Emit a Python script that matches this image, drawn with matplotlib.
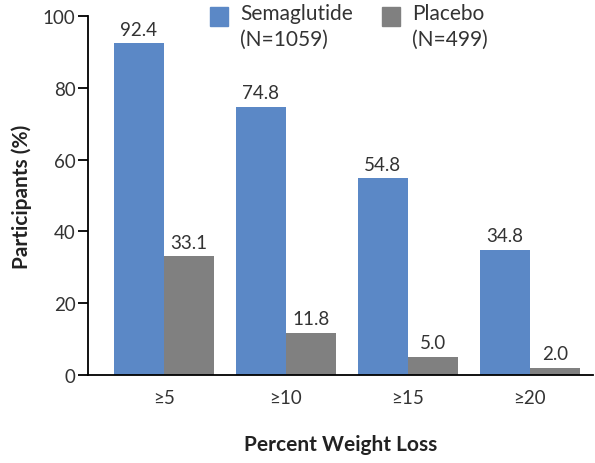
import matplotlib.pyplot as plt
import matplotlib.patches as mpatches
import numpy as np

categories = ["\u22655", "\u226510", "\u226515", "\u226520"]
semaglutide = [92.4, 74.8, 54.8, 34.8]
placebo = [33.1, 11.8, 5.0, 2.0]
series_names = ["Semaglutide\n(N=1059)", "Placebo\n(N=499)"]

blue = "#5b88c6"
gray = "#808080"
text_color = "#333333"

plt.rcParams['font.family'] = ['Lato', 'DejaVu Sans']

fig = plt.figure(figsize=(5.95, 4.64), dpi=100)
ax = fig.add_axes([0.148, 0.19, 0.849, 0.773])

x = np.arange(len(categories))
w = 0.41
b1 = ax.bar(x - w / 2, semaglutide, w, color=blue)
b2 = ax.bar(x + w / 2, placebo, w, color=gray)

# value labels above bars
for bars, vals in [(b1, semaglutide), (b2, placebo)]:
    for rect, v in zip(bars, vals):
        ax.annotate(f"{v:.1f}", (rect.get_x() + rect.get_width() / 2, v),
                    xytext=(0, 4), textcoords="offset points",
                    ha="center", va="bottom", fontsize=13.5, color=text_color)

ax.set_ylim(0, 100)
ax.set_xlim(-0.62, 3.52)
ax.set_yticks([0, 20, 40, 60, 80, 100])
ax.set_xticks(x)
ax.set_xticklabels(categories)
ax.tick_params(axis="y", length=7, width=1.3, labelsize=13.5, labelcolor=text_color, pad=2)
ax.tick_params(axis="x", length=0, labelsize=13.5, labelcolor=text_color, pad=10)
for s in ["top", "right"]:
    ax.spines[s].set_visible(False)
for s in ["left", "bottom"]:
    ax.spines[s].set_linewidth(1.3)

ax.set_ylabel("Participants (%)", fontsize=15, fontweight="bold", color="#222222", labelpad=8)
ax.set_xlabel("Percent Weight Loss", fontsize=15, fontweight="bold", color="#222222", labelpad=20)

# legend: squares with two-line labels
leg_x = [0.353, 0.642]
for lx, col, name in zip(leg_x, [blue, gray], series_names):
    fig.add_artist(mpatches.Rectangle((lx, 0.942), 0.031, 0.040, color=col,
                                      transform=fig.transFigure))
    fig.text(lx + 0.05, 0.992, name, fontsize=15, color=text_color,
             va="top", ha="left", linespacing=1.4)

fig.savefig("out.png", dpi=100)
